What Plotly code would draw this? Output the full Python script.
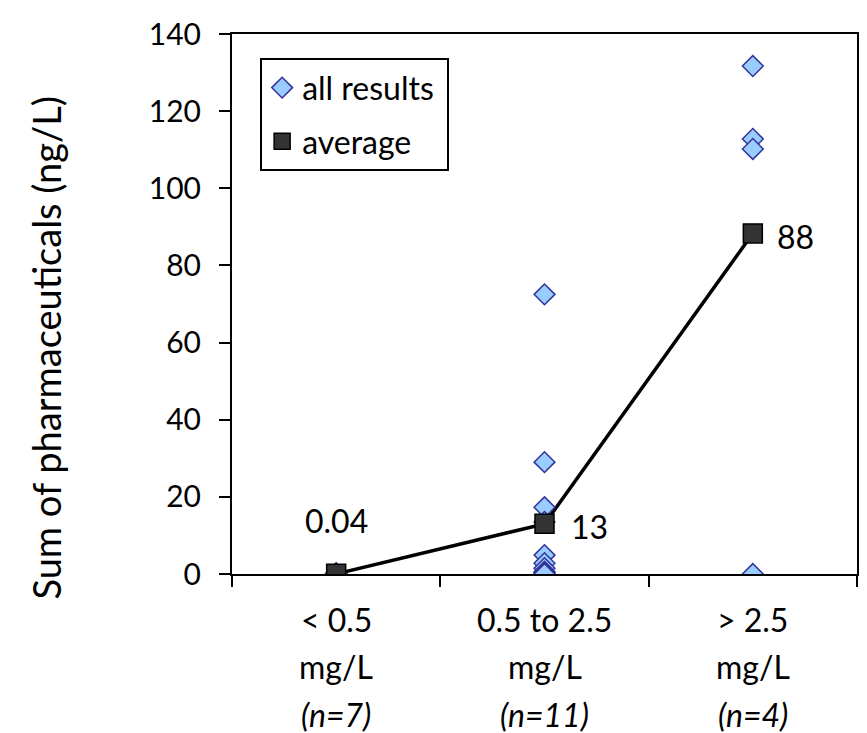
import plotly.graph_objects as go

# Data
categories = [1, 2, 3]
cat_line1 = ["&lt; 0.5", "0.5 to 2.5", "&gt; 2.5"]
cat_line2 = ["mg/L", "mg/L", "mg/L"]
cat_line3 = ["(n=7)", "(n=11)", "(n=4)"]

res_cat1 = [0, 0, 0, 0, 0, 0.08, 0.2]
res_cat2 = [72.5, 29, 17.3, 13.5, 4.9, 2.8, 1.5, 0.6, 0.3, 0, 0]
res_cat3 = [131.7, 112.8, 110.2, 0]

avg_values = [0.04, 13.0, 88.3]
avg_labels = ["0.04", "13", "88"]

y_ticks = [0, 20, 40, 60, 80, 100, 120, 140]

FONT = "Lato, Carlito, Calibri, sans-serif"

all_x = [1] * len(res_cat1) + [2] * len(res_cat2) + [3] * len(res_cat3)
all_y = res_cat1 + res_cat2 + res_cat3

fig = go.Figure()

fig.add_trace(go.Scatter(
    x=categories, y=avg_values, mode="lines",
    line=dict(color="black", width=3.5), showlegend=False, hoverinfo="skip",
))
fig.add_trace(go.Scatter(
    x=all_x, y=all_y, mode="markers", name="all results ",
    legendgroup="a",
    marker=dict(symbol="diamond", size=16, color="#99CCFF",
                line=dict(color="#333399", width=1.5)),
))
fig.add_trace(go.Scatter(
    x=categories, y=avg_values, mode="markers", name="average",
    legendgroup="b",
    marker=dict(symbol="square", size=19, color="#333333",
                line=dict(color="black", width=1.5)),
))

LBL = 32
# average labels
fig.add_annotation(x=categories[0], y=avg_values[0], text=avg_labels[0],
                   showarrow=False, yshift=53, font=dict(size=LBL, family=FONT, color="black"))
fig.add_annotation(x=categories[1], y=avg_values[1], text=avg_labels[1],
                   showarrow=False, xanchor="left", xshift=24, yshift=-3,
                   font=dict(size=LBL, family=FONT, color="black"))
fig.add_annotation(x=categories[2], y=avg_values[2], text=avg_labels[2],
                   showarrow=False, xanchor="left", xshift=22, yshift=-3,
                   font=dict(size=LBL, family=FONT, color="black"))

# category labels
for i, c in enumerate(categories):
    for txt, yp in [(cat_line1[i], -45), (cat_line2[i], -92), ("<i>" + cat_line3[i] + "</i>", -140)]:
        fig.add_annotation(x=c, xref="x", y=yp / 540, yref="paper", text=txt,
                           showarrow=False, yanchor="middle",
                           font=dict(size=LBL, family=FONT, color="black"))

# y-axis title
fig.add_annotation(x=-187 / 627, xref="paper", y=0.5 - (348 - 304) / 540, yref="paper",
                   text="Sum of pharmaceuticals (ng/L)", textangle=-90, showarrow=False,
                   xanchor="center", yanchor="middle",
                   font=dict(size=38, family=FONT, color="black"))

fig.update_layout(
    width=867, height=733,
    margin=dict(l=232, r=8, t=34, b=159),
    plot_bgcolor="white", paper_bgcolor="white",
    font=dict(family=FONT, size=30, color="black"),
    showlegend=True,
    legend=dict(x=0.045, y=0.955, xanchor="left", yanchor="top",
                bgcolor="white", bordercolor="black", borderwidth=2,
                font=dict(size=32, family=FONT), tracegroupgap=9,
                itemwidth=30),
    xaxis=dict(range=[0.5, 3.5], tickvals=[0.5, 1.5, 2.5, 3.5], showticklabels=False,
               ticks="outside", ticklen=11, tickwidth=2, tickcolor="black",
               showline=True, linecolor="black", linewidth=2, mirror=True,
               showgrid=False, zeroline=False),
    yaxis=dict(range=[0, 140], tickvals=y_ticks, ticks="outside", ticklen=11,
               tickwidth=2, tickcolor="black", showline=True, linecolor="black",
               linewidth=2, mirror=True, showgrid=False, zeroline=False,
               tickfont=dict(size=30, family=FONT), ticklabelstandoff=12),
)

fig.write_html("out.html")
